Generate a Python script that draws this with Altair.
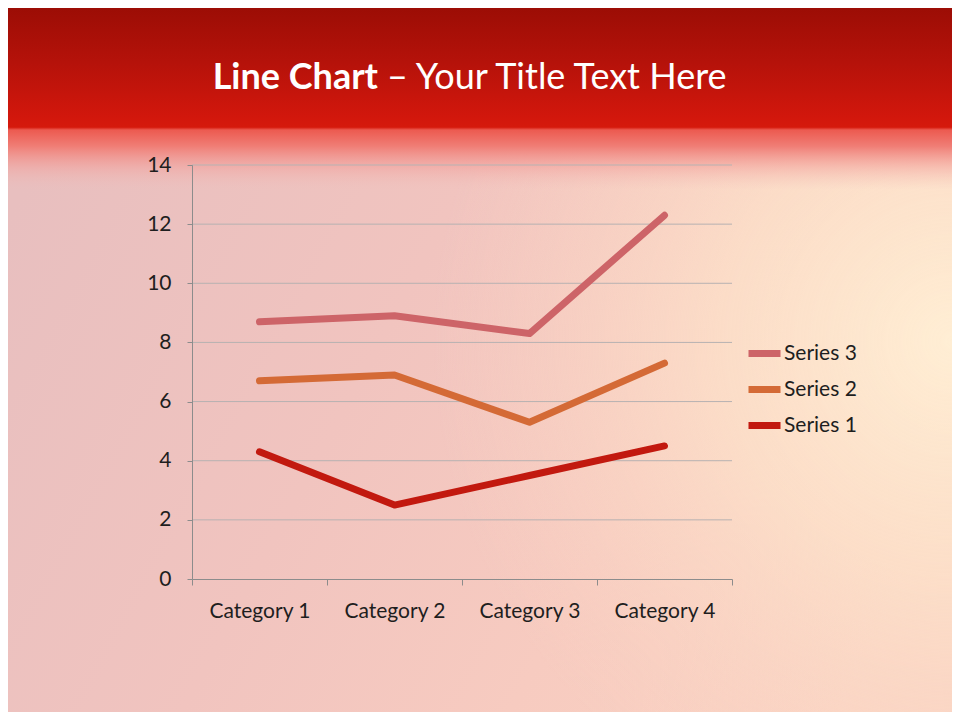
import altair as alt
import pandas as pd

categories = ["Category 1", "Category 2", "Category 3", "Category 4"]
series_names = ["Series 3", "Series 2", "Series 1"]
series1 = [4.3, 2.5, 3.5, 4.5]
series2 = [6.7, 6.9, 5.3, 7.3]
series3 = [8.7, 8.9, 8.3, 12.3]
series_colors = ["#CD6468", "#D46A36", "#C2190F"]
y_ticks = [0, 2, 4, 6, 8, 10, 12, 14]
title_bold = "Line Chart"
title_rest = "\u2013 Your Title Text Here"

rows = []
for name, vals in [("Series 1", series1), ("Series 2", series2), ("Series 3", series3)]:
    for c, v in zip(categories, vals):
        rows.append({"category": c, "series": name, "value": v})
df = pd.DataFrame(rows)
grid_df = pd.DataFrame({"value": y_ticks[1:]})

FONT = "Lato"
FS = 21
W, H = 540, 414
PL, PT = 184, 157
PR, PB = 220, 133

one = alt.Data(values=[{}])

body_bg = alt.Chart(one).mark_rect(
    fill={
        "gradient": "linear",
        "x1": 0, "y1": 0.3, "x2": 1, "y2": 0.7,
        "stops": [
            {"offset": 0.0, "color": "#E8BFBF"},
            {"offset": 0.4, "color": "#F1C4BF"},
            {"offset": 0.7, "color": "#F7CBC0"},
            {"offset": 1.0, "color": "#FAD3C3"},
        ],
    }
).encode(x=alt.value(-PL), x2=alt.value(W + PR), y=alt.value(-PT), y2=alt.value(H + PB))

glow = alt.Chart(one).mark_rect(
    fill={
        "gradient": "radial",
        "x1": 1.0, "y1": 0.48, "r1": 0,
        "x2": 1.0, "y2": 0.48, "r2": 0.55,
        "stops": [
            {"offset": 0.0, "color": "rgba(255,238,212,1)"},
            {"offset": 0.45, "color": "rgba(253,226,202,0.75)"},
            {"offset": 1.0, "color": "rgba(250,212,196,0)"},
        ],
    }
).encode(x=alt.value(-PL), x2=alt.value(W + PR), y=alt.value(-PT), y2=alt.value(H + PB))

header = alt.Chart(one).mark_rect(
    fill={
        "gradient": "linear",
        "x1": 0, "y1": 0, "x2": 0, "y2": 1,
        "stops": [
            {"offset": 0.0, "color": "#9C0D05"},
            {"offset": 0.3, "color": "#B5120A"},
            {"offset": 0.6, "color": "#D2170C"},
            {"offset": 0.655, "color": "#D5190C"},
            {"offset": 0.67, "color": "#EC5A50"},
            {"offset": 0.76, "color": "#F07E76"},
            {"offset": 0.88, "color": "rgba(242,160,155,0.5)"},
            {"offset": 1.0, "color": "rgba(240,190,185,0)"},
        ],
    }
).encode(x=alt.value(-PL), x2=alt.value(W + PR), y=alt.value(-PT), y2=alt.value(25))

t1 = alt.Chart(one).mark_text(
    text=title_bold, font=FONT, fontSize=36, fontWeight="bold", color="white",
    align="right", baseline="alphabetic"
).encode(x=alt.value(186), y=alt.value(-76))

t2 = alt.Chart(one).mark_text(
    text=title_rest, font=FONT, fontSize=36, fontWeight="normal", color="white",
    align="left", baseline="alphabetic"
).encode(x=alt.value(195), y=alt.value(-76))

x_enc = alt.X(
    "category:N",
    sort=categories,
    scale=alt.Scale(type="band", paddingInner=0, paddingOuter=0),
    axis=alt.Axis(
        title=None, labelAngle=0, tickBand="extent", grid=False, zindex=1,
        domainColor="#8C8C8C", tickColor="#8C8C8C", tickSize=6,
        labelPadding=15, labelFont=FONT, labelFontSize=FS, labelColor="#1E1E1E",
    ),
)
y_scale = alt.Scale(domain=[0, 14], nice=False)
y_axis = alt.Axis(
    title=None, values=y_ticks, grid=False, zindex=1,
    domainColor="#8C8C8C", tickColor="#8C8C8C", tickSize=5,
    labelPadding=16, labelFont=FONT, labelFontSize=FS, labelColor="#1E1E1E",
)

grid = alt.Chart(grid_df).mark_rule(color="#B7B2B2", strokeWidth=1).encode(
    y=alt.Y("value:Q", scale=y_scale, axis=y_axis),
    x=alt.value(0), x2=alt.value(W),
)

lines = alt.Chart(df).mark_line(strokeWidth=7, strokeCap="round", strokeJoin="round").encode(
    x=x_enc,
    y=alt.Y("value:Q", scale=y_scale, axis=y_axis),
    color=alt.Color(
        "series:N",
        scale=alt.Scale(domain=series_names, range=series_colors),
        legend=alt.Legend(
            title=None, orient="none", legendX=553, legendY=169,
            symbolType="stroke", symbolSize=1024, symbolStrokeWidth=7,
            labelFont=FONT, labelFontSize=FS, labelColor="#1E1E1E",
            labelOffset=0, rowPadding=2,
        ),
    ),
    detail="series:N",
)

chart = alt.layer(body_bg, glow, header, t1, t2, grid, lines).properties(
    width=W, height=H,
    padding={"left": PL, "top": PT, "right": PR, "bottom": PB},
    autosize=alt.AutoSizeParams(type="none"),
    background="#EBC3C3",
).configure_view(stroke=None)

chart.save("out.html", embed_options={"renderer": "svg", "actions": False})
